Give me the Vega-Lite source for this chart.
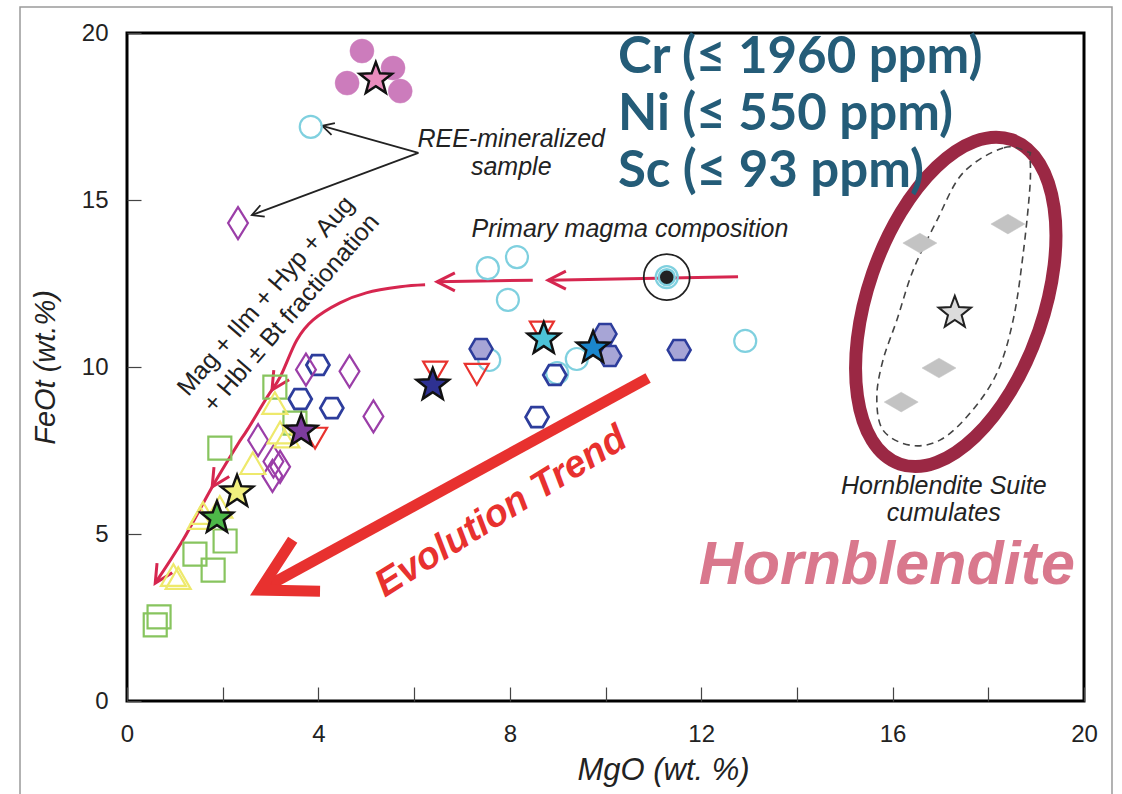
{
  "$schema": "https://vega.github.io/schema/vega-lite/v6.json",
  "width": 957,
  "height": 668,
  "autosize": {"type": "none"},
  "padding": {"left": 127, "top": 33, "right": 38, "bottom": 93},
  "background": "white",
  "config": {"view": {"stroke": "black", "strokeWidth": 3}, "font": "Liberation Sans"},
  "datasets": {
    "pts": [
      {"x": 4.91, "y": 19.46, "g": "ree"}, {"x": 5.56, "y": 18.95, "g": "ree"}, {"x": 4.60, "y": 18.50, "g": "ree"}, {"x": 5.71, "y": 18.26, "g": "ree"},
      {"x": 3.84, "y": 17.19, "g": "cyan"}, {"x": 7.54, "y": 12.96, "g": "cyan"}, {"x": 8.15, "y": 13.29, "g": "cyan"}, {"x": 7.96, "y": 12.01, "g": "cyan"},
      {"x": 7.57, "y": 10.21, "g": "cyan"}, {"x": 8.99, "y": 9.82, "g": "cyan"}, {"x": 9.40, "y": 10.24, "g": "cyan"}, {"x": 12.92, "y": 10.78, "g": "cyan"},
      {"x": 7.40, "y": 10.54, "g": "hexf"}, {"x": 9.99, "y": 10.99, "g": "hexf"}, {"x": 10.09, "y": 10.33, "g": "hexf"}, {"x": 11.54, "y": 10.51, "g": "hexf"},
      {"x": 3.99, "y": 10.06, "g": "hex"}, {"x": 3.62, "y": 9.04, "g": "hex"}, {"x": 4.28, "y": 8.77, "g": "hex"}, {"x": 8.94, "y": 9.76, "g": "hex"}, {"x": 8.57, "y": 8.50, "g": "hex"},
      {"x": 2.32, "y": 14.31, "g": "dia"}, {"x": 3.74, "y": 9.92, "g": "dia"}, {"x": 4.65, "y": 9.87, "g": "dia"}, {"x": 5.15, "y": 8.52, "g": "dia"},
      {"x": 2.74, "y": 7.81, "g": "dia"}, {"x": 3.06, "y": 7.17, "g": "dia"}, {"x": 3.20, "y": 7.01, "g": "dia"}, {"x": 3.04, "y": 6.74, "g": "dia"},
      {"x": 6.44, "y": 9.85, "g": "inv"}, {"x": 7.31, "y": 9.78, "g": "inv"}, {"x": 8.67, "y": 11.05, "g": "inv"}, {"x": 3.93, "y": 7.87, "g": "inv"},
      {"x": 3.09, "y": 9.40, "g": "sq"}, {"x": 3.51, "y": 8.32, "g": "sq"}, {"x": 1.94, "y": 7.57, "g": "sq"}, {"x": 2.05, "y": 4.79, "g": "sq"},
      {"x": 1.42, "y": 4.40, "g": "sq"}, {"x": 1.80, "y": 3.92, "g": "sq"}, {"x": 0.67, "y": 2.52, "g": "sq"}, {"x": 0.59, "y": 2.28, "g": "sq"},
      {"x": 3.09, "y": 8.92, "g": "tri"}, {"x": 3.20, "y": 8.04, "g": "tri"}, {"x": 3.34, "y": 7.92, "g": "tri"}, {"x": 2.63, "y": 7.12, "g": "tri"},
      {"x": 1.59, "y": 5.63, "g": "tri"}, {"x": 1.94, "y": 5.81, "g": "tri"}, {"x": 1.53, "y": 5.48, "g": "tri"}, {"x": 1.07, "y": 3.68, "g": "tri"}, {"x": 0.97, "y": 3.77, "g": "tri"},
      {"x": 16.57, "y": 13.71, "g": "gdia"}, {"x": 18.41, "y": 14.28, "g": "gdia"}, {"x": 16.97, "y": 9.97, "g": "gdia"}, {"x": 16.18, "y": 8.95, "g": "gdia"},
      {"x": 5.20, "y": 18.62, "g": "s_pink"}, {"x": 6.39, "y": 9.46, "g": "s_navy"}, {"x": 8.71, "y": 10.84, "g": "s_cyan"}, {"x": 9.74, "y": 10.57, "g": "s_blue"},
      {"x": 3.64, "y": 8.08, "g": "s_purple"}, {"x": 2.30, "y": 6.26, "g": "s_yellow"}, {"x": 1.88, "y": 5.48, "g": "s_green"}, {"x": 17.30, "y": 11.62, "g": "s_grey"},
      {"x": 11.28, "y": 12.69, "g": "cyan"}, {"x": 11.28, "y": 12.69, "g": "dot"}, {"x": 11.28, "y": 12.69, "g": "ring"}
    ],
    "lines": [
      {"id": "dash", "o": 1, "x": 18.83, "y": 16.44}, {"id": "dash", "o": 2, "x": 18.31, "y": 16.56}, {"id": "dash", "o": 3, "x": 17.47, "y": 15.81},
      {"id": "dash", "o": 4, "x": 16.93, "y": 14.40}, {"id": "dash", "o": 5, "x": 16.43, "y": 12.90}, {"id": "dash", "o": 6, "x": 16.09, "y": 11.41},
      {"id": "dash", "o": 7, "x": 15.80, "y": 10.21}, {"id": "dash", "o": 8, "x": 15.67, "y": 9.10}, {"id": "dash", "o": 9, "x": 15.80, "y": 8.11},
      {"id": "dash", "o": 10, "x": 16.36, "y": 7.66}, {"id": "dash", "o": 11, "x": 16.99, "y": 7.81}, {"id": "dash", "o": 12, "x": 17.62, "y": 8.62},
      {"id": "dash", "o": 13, "x": 18.18, "y": 9.82}, {"id": "dash", "o": 14, "x": 18.52, "y": 11.41}, {"id": "dash", "o": 15, "x": 18.73, "y": 13.41},
      {"id": "dash", "o": 16, "x": 18.87, "y": 15.39}, {"id": "dash", "o": 17, "x": 18.87, "y": 16.29},
      {"id": "c1", "o": 1, "x": 12.77, "y": 12.70}, {"id": "c1", "o": 2, "x": 8.80, "y": 12.60},
      {"id": "c2", "o": 1, "x": 8.48, "y": 12.60}, {"id": "c2", "o": 2, "x": 6.48, "y": 12.55},
      {"id": "c3", "o": 1, "x": 6.23, "y": 12.46}, {"id": "c3", "o": 2, "x": 5.71, "y": 12.40}, {"id": "c3", "o": 3, "x": 5.00, "y": 12.22},
      {"id": "c3", "o": 4, "x": 4.45, "y": 11.92}, {"id": "c3", "o": 5, "x": 3.89, "y": 11.41}, {"id": "c3", "o": 6, "x": 3.55, "y": 10.81},
      {"id": "c3", "o": 7, "x": 3.20, "y": 9.70}, {"id": "c3", "o": 8, "x": 2.93, "y": 9.10}, {"id": "c3", "o": 9, "x": 2.51, "y": 8.11},
      {"id": "c3", "o": 10, "x": 2.30, "y": 7.65}, {"id": "c3", "o": 11, "x": 1.78, "y": 6.41}, {"id": "c3", "o": 12, "x": 1.17, "y": 4.82},
      {"id": "c3", "o": 13, "x": 0.59, "y": 3.53},
      {"id": "b1", "o": 1, "x": 6.09, "y": 16.41}, {"id": "b1", "o": 2, "x": 4.08, "y": 17.22},
      {"id": "b2", "o": 1, "x": 6.09, "y": 16.41}, {"id": "b2", "o": 2, "x": 2.61, "y": 14.55},
      {"id": "evo", "o": 1, "x": 10.89, "y": 9.67}, {"id": "evo", "o": 2, "x": 2.78, "y": 3.32}
    ],
    "heads": [
      {"k": "cl", "x": 8.80, "y": 12.60}, {"k": "cl", "x": 6.48, "y": 12.55},
      {"k": "cc", "x": 3.03, "y": 9.31}, {"k": "cc", "x": 1.78, "y": 6.41}, {"k": "cc", "x": 0.59, "y": 3.53},
      {"k": "b1", "x": 4.08, "y": 17.22}, {"k": "b2", "x": 2.61, "y": 14.55},
      {"k": "evo", "x": 2.78, "y": 3.32}
    ]
  },
  "encoding": {
    "x": {
      "field": "x", "type": "quantitative",
      "scale": {"domain": [0, 20], "nice": false, "zero": false},
      "axis": {
        "values": [0, 2, 4, 6, 8, 10, 12, 14, 16, 18, 20],
        "labelExpr": "datum.value % 4 === 0 ? datum.label : ''",
        "tickSize": -14, "tickColor": "#444", "tickWidth": 1.2,
        "domain": false, "grid": false,
        "labelFont": "Liberation Sans", "labelFontSize": 24, "labelColor": "#222", "labelPadding": 35, "labelFlush": false,
        "title": "MgO (wt. %)", "titleFont": "Liberation Sans", "titleFontSize": 31, "titleFontStyle": "italic", "titleFontWeight": "normal",
        "titleColor": "#222", "titleX": 536, "titleY": 69, "titleBaseline": "middle", "titleAlign": "center"
      }
    },
    "y": {
      "field": "y", "type": "quantitative",
      "scale": {"domain": [0, 20], "nice": false, "zero": false},
      "axis": {
        "values": [0, 5, 10, 15, 20],
        "tickSize": -14, "tickColor": "#444", "tickWidth": 1.2,
        "domain": false, "grid": false,
        "labelFont": "Liberation Sans", "labelFontSize": 24, "labelColor": "#222", "labelPadding": 33, "labelFlush": false,
        "title": "FeOt (wt.%)", "titleFont": "Liberation Sans", "titleFontSize": 29, "titleFontStyle": "italic", "titleFontWeight": "normal",
        "titleColor": "#222", "titleX": -82, "titleY": 334, "titleAngle": 270, "titleBaseline": "middle", "titleAlign": "center"
      }
    }
  },
  "layer": [
    {
      "data": {"values": [{"x": -2.236, "x2": 20.585, "y": 20.78, "y2": -3.5}]},
      "mark": {"type": "rect", "fill": null, "fillOpacity": 0, "stroke": "#9a9a9a", "strokeWidth": 1.5, "clip": false},
      "encoding": {"x2": {"field": "x2"}, "y2": {"field": "y2"}}
    },
    {
      "data": {"values": [{"x": 17.32, "y": 11.95}]},
      "mark": {
        "type": "point", "filled": false, "opacity": 1,
        "shape": "M0,-1C0.2834,-1 0.513,-0.5523 0.513,0C0.513,0.5523 0.2834,1 0,1C-0.2834,1 -0.513,0.5523 -0.513,0C-0.513,-0.5523 -0.2834,-1 0,-1Z",
        "size": 117649, "angle": 19, "stroke": "#9b2844", "strokeWidth": 13
      }
    },
    {
      "data": {"name": "lines"},
      "transform": [{"filter": "datum.id === 'dash'"}],
      "mark": {"type": "line", "interpolate": "cardinal-closed", "stroke": "#444", "strokeWidth": 1.6, "strokeDash": [7, 5]},
      "encoding": {"order": {"field": "o", "type": "quantitative"}}
    },
    {
      "data": {"name": "lines"},
      "transform": [{"filter": "datum.id === 'c1' || datum.id === 'c2' || datum.id === 'c3'"}],
      "mark": {"type": "line", "interpolate": "cardinal", "stroke": "#d6264f", "strokeWidth": 3},
      "encoding": {"detail": {"field": "id"}, "order": {"field": "o", "type": "quantitative"}}
    },
    {
      "data": {"name": "lines"},
      "transform": [{"filter": "datum.id === 'b1' || datum.id === 'b2'"}],
      "mark": {"type": "line", "stroke": "#222", "strokeWidth": 1.8},
      "encoding": {"detail": {"field": "id"}, "order": {"field": "o", "type": "quantitative"}}
    },
    {
      "data": {"name": "lines"},
      "transform": [{"filter": "datum.id === 'evo'"}],
      "mark": {"type": "line", "stroke": "#e8312f", "strokeWidth": 11, "strokeCap": "butt"},
      "encoding": {"order": {"field": "o", "type": "quantitative"}}
    },
    {
      "data": {"name": "heads"},
      "transform": [{"filter": "datum.k === 'cl'"}],
      "mark": {"type": "point", "filled": false, "opacity": 1, "shape": "M0.89,-0.45L0,0L0.89,0.45", "size": 1600, "angle": 0, "stroke": "#d6264f", "strokeWidth": 3}
    },
    {
      "data": {"name": "heads"},
      "transform": [{"filter": "datum.k === 'cc'"}],
      "mark": {"type": "point", "filled": false, "opacity": 1, "shape": "M0.89,-0.45L0,0L0.89,0.45", "size": 1600, "angle": 302, "stroke": "#d6264f", "strokeWidth": 3}
    },
    {
      "data": {"name": "heads"},
      "transform": [{"filter": "datum.k === 'b1'"}],
      "mark": {"type": "point", "filled": false, "opacity": 1, "shape": "M0.88,-0.47L0,0L0.88,0.47", "size": 676, "angle": 16, "stroke": "#222", "strokeWidth": 1.8}
    },
    {
      "data": {"name": "heads"},
      "transform": [{"filter": "datum.k === 'b2'"}],
      "mark": {"type": "point", "filled": false, "opacity": 1, "shape": "M0.88,-0.47L0,0L0.88,0.47", "size": 676, "angle": 339, "stroke": "#222", "strokeWidth": 1.8}
    },
    {
      "data": {"name": "heads"},
      "transform": [{"filter": "datum.k === 'evo'"}],
      "mark": {"type": "point", "filled": false, "opacity": 1, "shape": "M0.875,-0.485L0,0L0.875,0.485", "size": 14400, "angle": 332, "stroke": "#e8312f", "strokeWidth": 11, "strokeJoin": "miter", "strokeMiterLimit": 10}
    },
    {
      "data": {"name": "pts"},
      "mark": {"type": "point", "opacity": 1},
      "encoding": {
        "shape": {"field": "g", "type": "nominal", "legend": null, "scale": {
          "domain": ["ree", "cyan", "hexf", "hex", "dia", "inv", "sq", "tri", "gdia", "s_pink", "s_navy", "s_cyan", "s_blue", "s_purple", "s_yellow", "s_green", "s_grey", "dot", "ring"],
          "range": ["circle", "circle",
            "M-1,0L-0.5,-0.866L0.5,-0.866L1,0L0.5,0.866L-0.5,0.866Z",
            "M-1,0L-0.5,-0.866L0.5,-0.866L1,0L0.5,0.866L-0.5,0.866Z",
            "M0,-1L0.62,0L0,1L-0.62,0Z", "triangle-down", "square", "triangle-up",
            "M-1,0L0,-0.58L1,0L0,0.58Z",
            "M0,-1L0.2469,-0.3398L0.9511,-0.309L0.3995,0.1298L0.5878,0.809L0,0.42L-0.5878,0.809L-0.3995,0.1298L-0.9511,-0.309L-0.2469,-0.3398Z",
            "M0,-1L0.2469,-0.3398L0.9511,-0.309L0.3995,0.1298L0.5878,0.809L0,0.42L-0.5878,0.809L-0.3995,0.1298L-0.9511,-0.309L-0.2469,-0.3398Z",
            "M0,-1L0.2469,-0.3398L0.9511,-0.309L0.3995,0.1298L0.5878,0.809L0,0.42L-0.5878,0.809L-0.3995,0.1298L-0.9511,-0.309L-0.2469,-0.3398Z",
            "M0,-1L0.2469,-0.3398L0.9511,-0.309L0.3995,0.1298L0.5878,0.809L0,0.42L-0.5878,0.809L-0.3995,0.1298L-0.9511,-0.309L-0.2469,-0.3398Z",
            "M0,-1L0.2469,-0.3398L0.9511,-0.309L0.3995,0.1298L0.5878,0.809L0,0.42L-0.5878,0.809L-0.3995,0.1298L-0.9511,-0.309L-0.2469,-0.3398Z",
            "M0,-1L0.2469,-0.3398L0.9511,-0.309L0.3995,0.1298L0.5878,0.809L0,0.42L-0.5878,0.809L-0.3995,0.1298L-0.9511,-0.309L-0.2469,-0.3398Z",
            "M0,-1L0.2469,-0.3398L0.9511,-0.309L0.3995,0.1298L0.5878,0.809L0,0.42L-0.5878,0.809L-0.3995,0.1298L-0.9511,-0.309L-0.2469,-0.3398Z",
            "M0,-1L0.2469,-0.3398L0.9511,-0.309L0.3995,0.1298L0.5878,0.809L0,0.42L-0.5878,0.809L-0.3995,0.1298L-0.9511,-0.309L-0.2469,-0.3398Z",
            "circle", "circle"]
        }},
        "fill": {"field": "g", "type": "nominal", "legend": null, "scale": {
          "domain": ["ree", "cyan", "hexf", "hex", "dia", "inv", "sq", "tri", "gdia", "s_pink", "s_navy", "s_cyan", "s_blue", "s_purple", "s_yellow", "s_green", "s_grey", "dot", "ring"],
          "range": ["#cc7cbc", "transparent", "#a7a5d6", "transparent", "transparent", "transparent", "transparent", "transparent", "#c3c3c3",
            "#ea8cbd", "#2e3192", "#4cc3d8", "#1b86cc", "#7d3c9e", "#f1ef7e", "#4db848", "#dcdcdc", "#222222", "transparent"]
        }},
        "stroke": {"field": "g", "type": "nominal", "legend": null, "scale": {
          "domain": ["ree", "cyan", "hexf", "hex", "dia", "inv", "sq", "tri", "gdia", "s_pink", "s_navy", "s_cyan", "s_blue", "s_purple", "s_yellow", "s_green", "s_grey", "dot", "ring"],
          "range": ["#cc7cbc", "#7fd0df", "#2d3d9c", "#2d3d9c", "#9b3ea8", "#e8322e", "#87c45e", "#eee96c", "#c3c3c3",
            "#111111", "#111111", "#111111", "#111111", "#111111", "#111111", "#111111", "#222222", "#7fd0df", "#222222"]
        }},
        "size": {"field": "g", "type": "nominal", "legend": null, "scale": {
          "type": "ordinal",
          "domain": ["ree", "cyan", "hexf", "hex", "dia", "inv", "sq", "tri", "gdia", "s_pink", "s_navy", "s_cyan", "s_blue", "s_purple", "s_yellow", "s_green", "s_grey", "dot", "ring"],
          "range": [576, 484, 529, 529, 1024, 576, 529, 625, 1156, 1156, 1156, 1156, 1156, 1156, 1156, 1156, 1156, 256, 2116]
        }},
        "strokeWidth": {"field": "g", "type": "nominal", "legend": null, "scale": {
          "type": "ordinal",
          "domain": ["ree", "cyan", "hexf", "hex", "dia", "inv", "sq", "tri", "gdia", "s_pink", "s_navy", "s_cyan", "s_blue", "s_purple", "s_yellow", "s_green", "s_grey", "dot", "ring"],
          "range": [0.5, 2.2, 2.5, 2.8, 2.2, 2.2, 2.2, 2.2, 0.5, 2.5, 2.5, 2.5, 2.5, 2.5, 2.5, 2.5, 2, 2.5, 1.8]
        }}
      }
    },
    {
      "data": {"values": [{"x": 8.03, "y": 16.59, "t": "REE-mineralized"}, {"x": 8.03, "y": 15.75, "t": "sample"}, {"x": 10.51, "y": 13.89, "t": "Primary magma composition"}, {"x": 17.07, "y": 6.20, "t": "Hornblendite Suite"}, {"x": 17.07, "y": 5.39, "t": "cumulates"}]},
      "mark": {"type": "text", "font": "Liberation Sans", "fontStyle": "italic", "fontSize": 25, "color": "#222", "align": "center", "baseline": "alphabetic"},
      "encoding": {"text": {"field": "t"}}
    },
    {
      "data": {"values": [{"x": 2.90, "y": 12.13, "t": "Mag + Ilm + Hyp + Aug"}, {"x": 3.43, "y": 11.62, "t": "+ Hbl ± Bt fractionation"}]},
      "mark": {"type": "text", "font": "Liberation Sans", "fontSize": 25, "color": "#222", "align": "center", "baseline": "middle", "angle": 311},
      "encoding": {"text": {"field": "t"}}
    },
    {
      "data": {"values": [{"x": 7.82, "y": 5.66, "t": "Evolution Trend"}]},
      "mark": {"type": "text", "font": "Liberation Sans", "fontStyle": "italic", "fontWeight": "bold", "fontSize": 38, "color": "#e8312f", "align": "center", "baseline": "middle", "angle": 328},
      "encoding": {"text": {"field": "t"}}
    },
    {
      "data": {"values": [{"x": 15.88, "y": 3.50, "t": "Hornblendite"}]},
      "mark": {"type": "text", "font": "Liberation Sans", "fontStyle": "italic", "fontWeight": "bold", "fontSize": 61, "color": "#d9788d", "align": "center", "baseline": "alphabetic"},
      "encoding": {"text": {"field": "t"}}
    },
    {
      "data": {"values": [{"x": 10.26, "y": 18.80, "t": "Cr (≤ 1960 ppm)"}, {"x": 10.26, "y": 17.10, "t": "Ni (≤ 550 ppm)"}, {"x": 10.26, "y": 15.39, "t": "Sc (≤ 93 ppm)"}]},
      "mark": {"type": "text", "font": "Lato", "fontWeight": "bold", "fontSize": 51, "color": "#245c78", "align": "left", "baseline": "alphabetic"},
      "encoding": {"text": {"field": "t"}}
    }
  ]
}
